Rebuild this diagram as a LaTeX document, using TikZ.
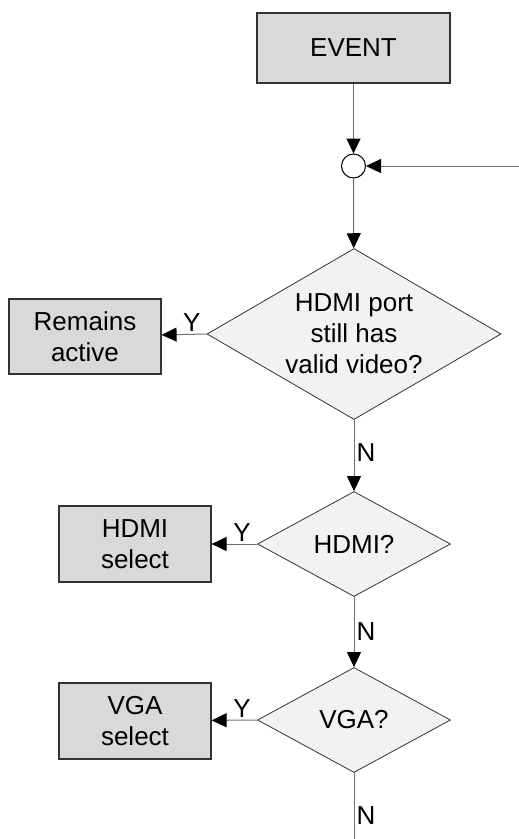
\documentclass[tikz,border=0pt]{standalone}
\usepackage{fontspec}
\setmainfont{Liberation Sans}
\usepackage{xcolor}
\usepackage{tikz}
\usetikzlibrary{shapes.geometric,arrows.meta}
\definecolor{boxgray}{RGB}{217,217,217}
\definecolor{decgray}{RGB}{242,242,242}
\definecolor{wiregray}{RGB}{110,110,110}

\begin{document}
\begin{tikzpicture}[x=1pt,y=-1pt,
    every node/.style={font=\fontsize{26}{31}\selectfont,align=center,text=black},
    actbox/.style={draw=black!80,line width=1.2pt,fill=boxgray,rectangle,inner sep=0pt},
    decbox/.style={draw=black!80,line width=0.8pt,fill=decgray,diamond,inner sep=0pt,shape aspect=1.75},
    wire/.style={wiregray,line width=1pt,-{Triangle[length=15pt,width=14pt,color=black]}},
    lbl/.style={inner sep=2pt}]
    \useasboundingbox (0,0) rectangle (519,839);

    % Start
    \node[actbox,minimum width=193pt,minimum height=70pt] (event) at (353.5,48) {EVENT};
    \node[draw=black,line width=1pt,fill=white,circle,minimum size=24pt,inner sep=0pt] (join) at (353.5,166) {};
    \coordinate (feed) at (519,166);

    % Decisions
    \node[decbox,minimum width=294pt,minimum height=171pt] (qvalid) at (354,334)
      {HDMI port\\still has\\valid video?};
    \node[decbox,minimum width=193pt,minimum height=105pt] (qhdmi) at (354,544) {HDMI?};
    \node[decbox,minimum width=193pt,minimum height=105pt] (qvga) at (354,720) {VGA?};
    \coordinate (exit) at (354,839);

    % Actions
    \node[actbox,minimum width=152pt,minimum height=75pt] (active) at (85,336.5) {Remains\\active};
    \node[actbox,minimum width=152pt,minimum height=76pt] (hdmisel) at (135,544) {HDMI\\select};
    \node[actbox,minimum width=152pt,minimum height=76pt] (vgasel) at (135,721) {VGA\\select};

    % Connectors
    \draw[wire] (event) -- (join);
    \draw[wire] (feed) -- (join);
    \draw[wire] (join) -- (qvalid);
    \draw[wire] (qvalid.west) -- node[lbl,above,pos=0.33] {Y} (active);
    \draw[wire] (qvalid.south) -- node[lbl,right,pos=0.46] {N} (qhdmi.north);
    \draw[wire] (qhdmi.west) -- node[lbl,above,pos=0.33] {Y} (hdmisel);
    \draw[wire] (qhdmi.south) -- node[lbl,right,pos=0.49] {N} (qvga.north);
    \draw[wire] (qvga.west) -- node[lbl,above,pos=0.33] {Y} (vgasel);
    \draw[wiregray,line width=1pt] (qvga.south) -- node[lbl,right,pos=0.65] {N} (exit);
  \end{tikzpicture}
\end{document}
